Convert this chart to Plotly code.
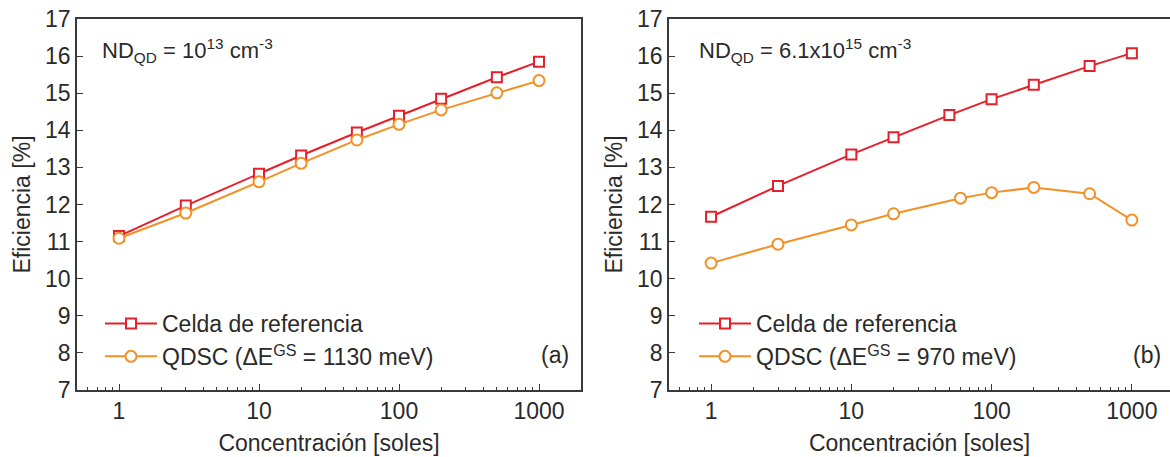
import plotly.graph_objects as go

# Concentration (suns) and efficiency (%) values
conc_ref = [1, 3, 10, 20, 50, 100, 200, 500, 1000]
conc_qdsc_b = [1, 3, 10, 20, 60, 100, 200, 500, 1000]

eff_ref_a = [11.15, 11.97, 12.83, 13.32, 13.94, 14.39, 14.85, 15.43, 15.85]
eff_qdsc_a = [11.09, 11.77, 12.61, 13.11, 13.74, 14.16, 14.55, 15.01, 15.34]

eff_ref_b = [11.67, 12.50, 13.35, 13.81, 14.41, 14.84, 15.23, 15.73, 16.08]
eff_qdsc_b = [10.42, 10.93, 11.45, 11.75, 12.17, 12.32, 12.46, 12.29, 11.58]

y_ticks = list(range(7, 18))
x_tickvals = [1, 10, 100, 1000]
x_ticktext = ["1", "10", "100", "1000"]
# minor log ticks: 2..9 in every decade
x_minor = [m * 10 ** e for e in range(-1, 4) for m in range(2, 10)]

RED = "#E5202B"
ORANGE = "#F39026"
FRAME = "#3a3a3a"
TEXT = "#2a2a2a"
FONT = "Liberation Sans, Arial, sans-serif"

W, H = 1170, 457


def px_x(p):
    return p / W


def px_y(p):
    return 1 - p / H


fig = go.Figure()

ref_marker = dict(symbol="square", size=10, color="white", line=dict(color=RED, width=2))
qd_marker = dict(symbol="circle", size=11, color="white", line=dict(color=ORANGE, width=2))

fig.add_trace(go.Scatter(x=conc_ref, y=eff_ref_a, mode="lines+markers", name="Celda de referencia",
                         line=dict(color=RED, width=2), marker=ref_marker,
                         xaxis="x", yaxis="y", legend="legend"))
fig.add_trace(go.Scatter(x=conc_ref, y=eff_qdsc_a, mode="lines+markers",
                         name="QDSC (\u0394E<sup>GS</sup> = 1130 meV)",
                         line=dict(color=ORANGE, width=2), marker=qd_marker,
                         xaxis="x", yaxis="y", legend="legend"))
fig.add_trace(go.Scatter(x=conc_ref, y=eff_ref_b, mode="lines+markers", name="Celda de referencia",
                         line=dict(color=RED, width=2), marker=ref_marker,
                         xaxis="x2", yaxis="y2", legend="legend2"))
fig.add_trace(go.Scatter(x=conc_qdsc_b, y=eff_qdsc_b, mode="lines+markers",
                         name="QDSC (\u0394E<sup>GS</sup> = 970 meV)",
                         line=dict(color=ORANGE, width=2), marker=qd_marker,
                         xaxis="x2", yaxis="y2", legend="legend2"))

common_x = dict(
    type="log", tickvals=x_tickvals, ticktext=x_ticktext,
    ticks="inside", ticklen=6, tickwidth=1.2, tickcolor=FRAME,
    minor=dict(tickvals=x_minor, ticks="inside", ticklen=3, tickwidth=1, tickcolor=FRAME, showgrid=False),
    showline=True, linecolor=FRAME, linewidth=1.5, showgrid=False, zeroline=False,
    tickfont=dict(size=23, color=TEXT, family=FONT),
    title=dict(text="Concentración [soles]", font=dict(size=23, color=TEXT, family=FONT), standoff=12),
    automargin=False,
)
common_y = dict(
    range=[7, 17], tickvals=y_ticks,
    ticks="inside", ticklen=6, tickwidth=1.2, tickcolor=FRAME,
    showline=True, linecolor=FRAME, linewidth=1.5, showgrid=False, zeroline=False,
    tickfont=dict(size=23, color=TEXT, family=FONT),
    title=dict(text="Eficiencia [%]", font=dict(size=23, color=TEXT, family=FONT), standoff=8),
    automargin=False,
)

legend_style = dict(xanchor="left", yanchor="middle", bgcolor="rgba(0,0,0,0)",
                    font=dict(size=23, family=FONT, color=TEXT), tracegroupgap=0, itemwidth=52)

fig.update_layout(
    width=W, height=H,
    margin=dict(l=0, r=0, t=0, b=0),
    paper_bgcolor="white", plot_bgcolor="white",
    font=dict(family=FONT, color=TEXT),
    xaxis=dict(common_x, domain=[px_x(77), px_x(581)], range=[-0.3, 3.3], mirror=True, anchor="y"),
    yaxis=dict(common_y, domain=[px_y(390), px_y(19)], mirror=True, anchor="x"),
    xaxis2=dict(common_x, domain=[px_x(669), 1.0], range=[-0.3, 3.272], mirror=True, anchor="y2"),
    yaxis2=dict(common_y, domain=[px_y(390), px_y(19)], mirror=False, anchor="x2"),
    legend=dict(legend_style, x=px_x(100), y=px_y(340)),
    legend2=dict(legend_style, x=px_x(694), y=px_y(340)),
    annotations=[
        dict(text="ND<sub>QD</sub> = 10<sup>13</sup> cm<sup>-3</sup>", xref="paper", yref="paper",
             x=px_x(100), y=px_y(50), xanchor="left", yanchor="middle", showarrow=False,
             font=dict(size=22, family=FONT, color=TEXT)),
        dict(text="ND<sub>QD</sub> = 6.1x10<sup>15</sup> cm<sup>-3</sup>", xref="paper", yref="paper",
             x=px_x(697), y=px_y(50), xanchor="left", yanchor="middle", showarrow=False,
             font=dict(size=22, family=FONT, color=TEXT)),
        dict(text="(a)", xref="paper", yref="paper", x=px_x(571), y=px_y(355),
             xanchor="right", yanchor="middle", showarrow=False,
             font=dict(size=23, family=FONT, color=TEXT)),
        dict(text="(b)", xref="paper", yref="paper", x=px_x(1163), y=px_y(355),
             xanchor="right", yanchor="middle", showarrow=False,
             font=dict(size=23, family=FONT, color=TEXT)),
    ],
)

fig.write_html("out.html")
